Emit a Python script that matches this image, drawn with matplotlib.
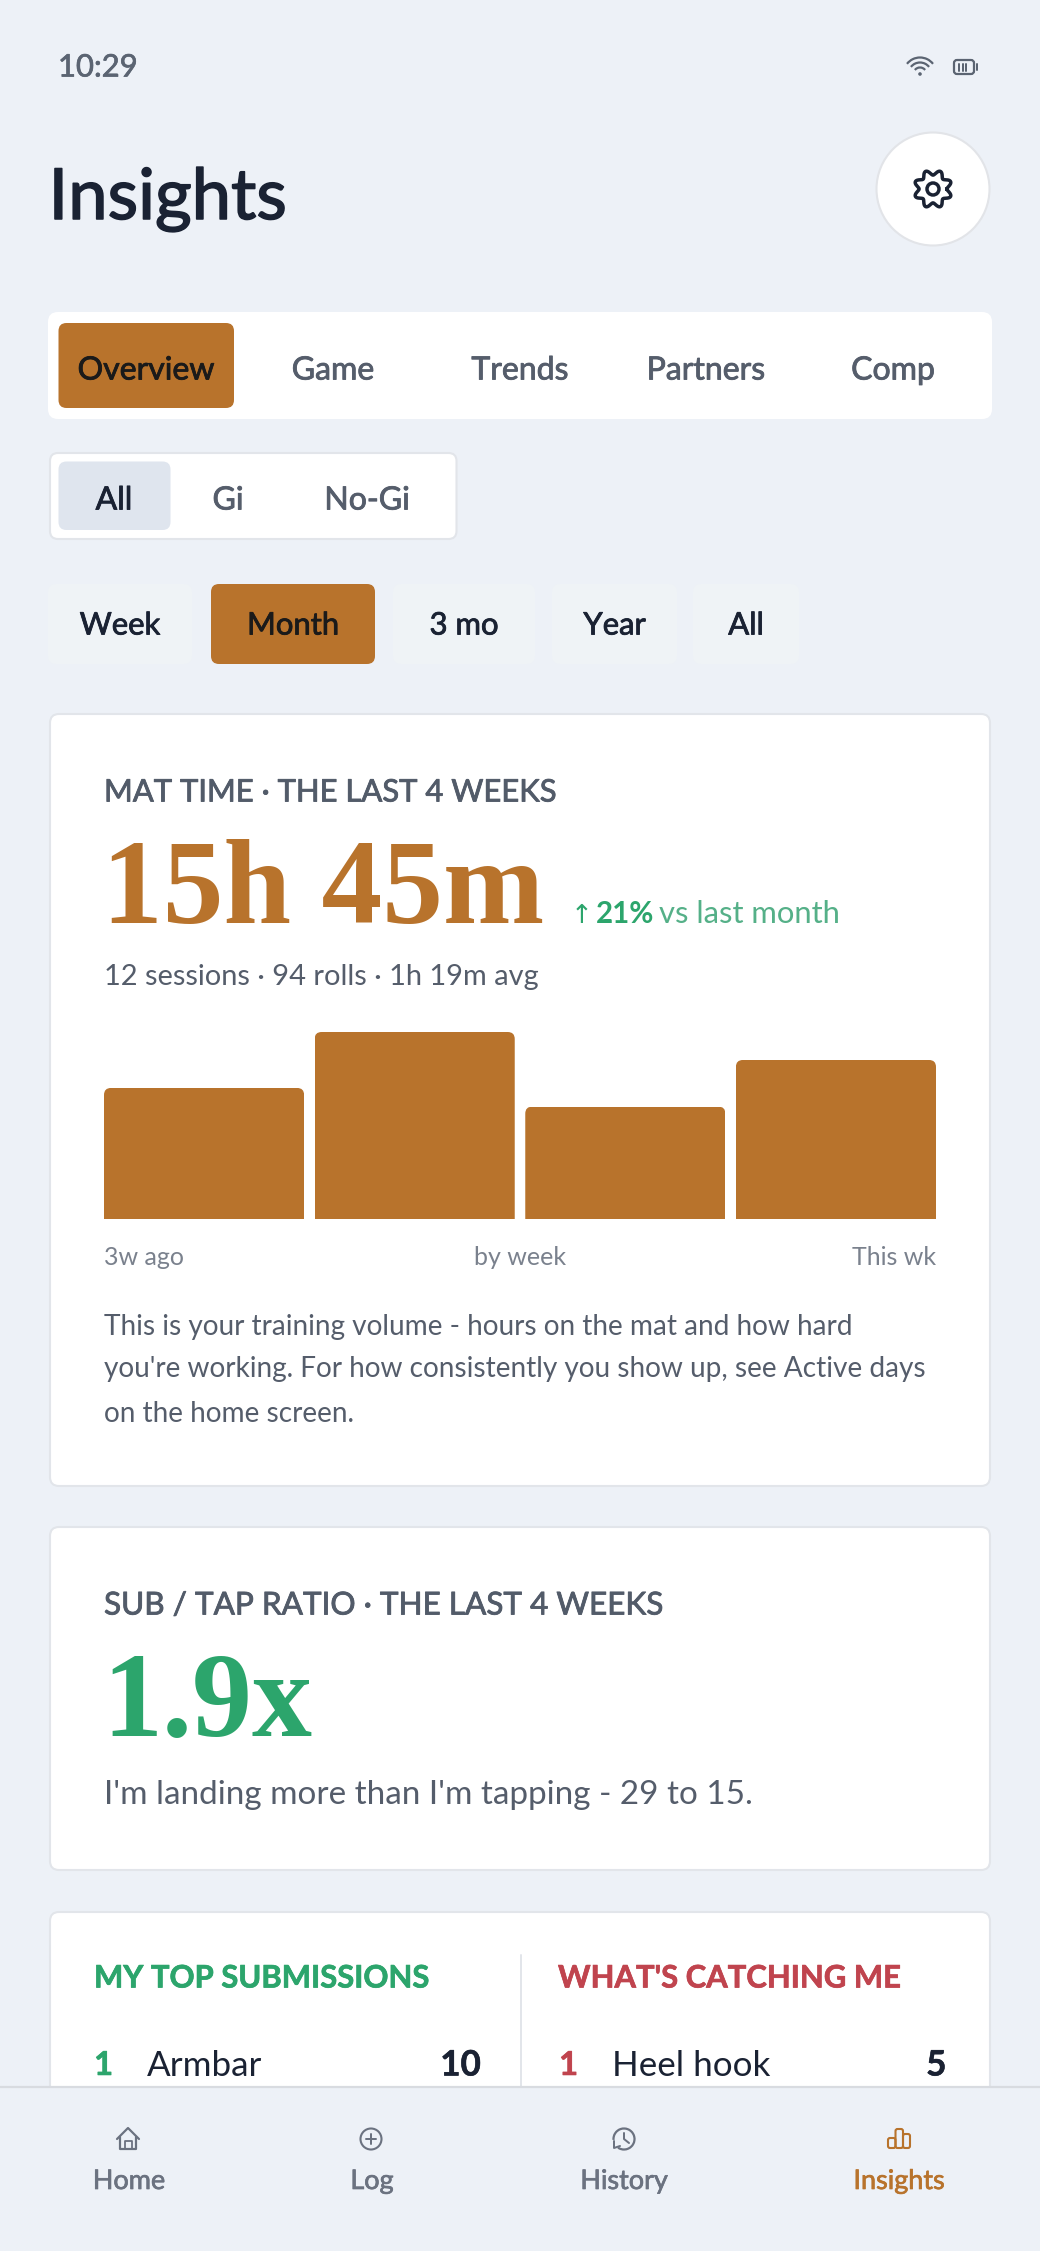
#!/usr/bin/env python3
import numpy as np
import matplotlib
matplotlib.use("Agg")
import matplotlib.pyplot as plt
import matplotlib.patheffects as pe
from matplotlib.patches import FancyBboxPatch, Circle, Arc

W, H = 1040, 2251

BG = "#edf1f7"
INK = "#1a2233"
GREY = "#555d6b"
SOFT = "#7a818d"
ORANGE = "#b8732c"
GREEN = "#2ca56c"
RED = "#c0444e"
BORDER = "#e2e5ea"

plt.rcParams["font.family"] = ["Lato", "DejaVu Sans"]

# chart values
weeks = ["3w ago", "2w ago", "1w ago", "This wk"]
hours = [3.5, 5.0, 3.0, 4.25]

main_tabs = ["Overview", "Game", "Trends", "Partners", "Comp"]
main_tab_x = [146, 333, 520, 706, 893]
gi_tabs = ["All", "Gi", "No-Gi"]
gi_tab_x = [114, 228, 367]
period_tabs = ["Week", "Month", "3 mo", "Year", "All"]
period_spans = [(48, 192), (211, 375), (393, 535), (552, 677), (693, 799)]

note_lines = [
    "This is your training volume - hours on the mat and how hard",
    "you're working. For how consistently you show up, see Active days",
    "on the home screen.",
]
note_y = [1324, 1367, 1412]

nav_items = ["Home", "Log", "History", "Insights"]
nav_x = [129, 372, 624, 899]

fig = plt.figure(figsize=(W / 100, H / 100), dpi=100, facecolor=BG)
ax = fig.add_axes([0, 0, 1, 1])
ax.set_xlim(0, W)
ax.set_ylim(H, 0)
ax.axis("off")


def box(x0, y0, x1, y1, r=10, fc="white", ec="none", lw=0, z=1):
    p = FancyBboxPatch((x0 + r, y0 + r), x1 - x0 - 2 * r, y1 - y0 - 2 * r,
                       boxstyle=f"round,pad={r},rounding_size={r}",
                       fc=fc, ec=ec, lw=lw, zorder=z)
    ax.add_patch(p)
    return p


def label(x, y, s, px, color=GREY, ha="left", va="center", weight="normal", z=5, thick=0, **kw):
    # px is the font size in image pixels, thick fakes the medium weights Lato lacks here
    if va == "center":
        y += 2.5
    t = ax.text(x, y, s, fontsize=px * 0.72, color=color, ha=ha, va=va,
                weight=weight, zorder=z, **kw)
    if thick:
        t.set_path_effects([pe.withStroke(linewidth=thick, foreground=color)])
    return t


def line(xs, ys, color, lw=2.0, z=6):
    ax.plot(xs, ys, color=color, lw=lw * 0.72, solid_capstyle="round",
            solid_joinstyle="round", zorder=z)


# status bar
label(58, 65, "10:29", 31, color="#5b6472", thick=0.5)
for r in (6.5, 11.5, 16.5):
    ax.add_patch(Arc((920, 74), 2 * r, 2 * r, theta1=218, theta2=322, color="#5b6472",
                     lw=1.6, zorder=6))
ax.add_patch(Circle((920, 74), 1.8, fc="#5b6472", ec="none", zorder=6))
box(954, 60, 974, 74, r=3, fc="none", ec="#5b6472", lw=1.6, z=6)
line([976.5, 976.5], [64, 70], "#5b6472", 2)
for bx in (959, 962.5, 966):
    line([bx, bx], [63.5, 70.5], "#5b6472", 2)

# header
label(48.5, 219, "Insights", 70.5, color=INK, va="baseline", thick=1.1)
ax.add_patch(Circle((933, 189), 56.5, fc="white", ec="#e2e4e8", lw=1.5, zorder=2))
t = np.linspace(0, 2 * np.pi, 361)
gear_r = 16.5 + 2.6 * np.cos(8 * (t + np.pi / 8 + np.pi / 2))
ax.plot(933 + gear_r * np.cos(t), 189 + gear_r * np.sin(t), color=INK, lw=2.5, zorder=6)
ax.add_patch(Circle((933, 189), 6, fc="none", ec=INK, lw=2.5, zorder=6))

# main tabs
box(48, 312, 992, 419, r=10)
box(58.5, 323, 234, 408, r=8, fc=ORANGE, z=2)
for i, (name, x) in enumerate(zip(main_tabs, main_tab_x)):
    label(x, 368, name, 32, color="#1a1a1a" if i == 0 else GREY, ha="center", thick=0.6)

# gi / no-gi
box(50, 453, 456.5, 539, r=8, ec=BORDER, lw=1.5)
box(58.5, 461.5, 170.5, 530, r=8, fc="#dfe5ee", z=2)
for i, (name, x) in enumerate(zip(gi_tabs, gi_tab_x)):
    label(x, 498, name, 32, color=INK if i == 0 else GREY, ha="center", thick=0.6)

# period chips
for i, (name, (x0, x1)) in enumerate(zip(period_tabs, period_spans)):
    box(x0, 584, x1, 664, r=8, fc=ORANGE if i == 1 else "#eff3f6", z=2)
    label((x0 + x1) / 2, 623, name, 31, color="#1a1a1a" if i == 1 else INK, ha="center", thick=0.6)

# mat time card
box(50, 714, 990, 1486, r=9, ec=BORDER, lw=1.5)
label(104, 790, "MAT TIME · THE LAST 4 WEEKS", 31, color="#525b69", thick=0.6)
label(102, 923, "15h 45m", 121.5, color=ORANGE, va="baseline", weight="bold",
      family="Liberation Serif")
label(571, 923, "↑", 26, color=GREEN, va="baseline", family="DejaVu Sans")
label(596, 923, "21%", 29.5, color=GREEN, va="baseline", weight="bold")
label(659, 923, "vs last month", 31, color="#55b088", va="baseline")
label(104, 974, "12 sessions · 94 rolls · 1h 19m avg", 29)

# weekly bars, one hour is 37.3 px tall
bar_ax = fig.add_axes([104 / W, 1 - 1218.5 / H, 832 / W, 186.5 / H])
bar_ax.set_xlim(-0.475, 3.475)
bar_ax.set_ylim(0, 5)
bar_ax.axis("off")
bar_ax.patch.set_alpha(0)
bars = bar_ax.bar(range(len(weeks)), hours, width=0.95, color=ORANGE, lw=0)
unit_x, unit_y = 832 / 3.95, 186.5 / 5
corner = 7 / unit_x
for b in bars:
    clip = FancyBboxPatch((b.get_x() + corner, -1), b.get_width() - 2 * corner,
                          b.get_height() + 1 - corner * unit_x / unit_y,
                          boxstyle=f"round,pad={corner},rounding_size={corner}",
                          mutation_aspect=unit_x / unit_y, transform=bar_ax.transData)
    b.set_clip_path(clip)

label(104, 1255, weeks[0], 25, color=SOFT)
label(520, 1255, "by week", 25, color=SOFT, ha="center")
label(936, 1255, weeks[-1], 25, color=SOFT, ha="right")
for s, y in zip(note_lines, note_y):
    label(104, y, s, 28)

# ratio card
box(50, 1527, 990, 1870, r=9, ec=BORDER, lw=1.5)
label(104, 1603, "SUB / TAP RATIO · THE LAST 4 WEEKS", 31.5, color="#525b69", thick=0.6)
label(102, 1735.5, "1.9x", 120, color=GREEN, va="baseline", weight="bold",
      family="Liberation Serif")
label(104, 1792, "I'm landing more than I'm tapping - 29 to 15.", 33.3)

# top lists card, runs under the nav
box(50, 1912, 990, 2200, r=9, ec=BORDER, lw=1.5)
line([521, 521], [1955, 2090], BORDER, 2, z=2)
label(94, 1976, "MY TOP SUBMISSIONS", 31, color=GREEN, weight="bold", thick=0.5)
label(558, 1976, "WHAT'S CATCHING ME", 31, color=RED, weight="bold", thick=0.5)
label(94, 2063, "1", 33, color=GREEN, weight="bold", thick=0.4)
label(147, 2063, "Armbar", 35, color=INK)
label(481, 2063, "10", 35, color=INK, ha="right", weight="bold", thick=0.4)
label(559, 2063, "1", 33, color=RED, weight="bold", thick=0.4)
label(612, 2063, "Heel hook", 35, color=INK)
label(946.5, 2063, "5", 35, color=INK, ha="right", weight="bold", thick=0.4)

# bottom nav
ax.fill_between([0, W], 2087, H, color=BG, lw=0, zorder=10)
ax.plot([0, W], [2087, 2087], color="#d8dbe0", lw=1.6, zorder=11)
NAV = "#6b7280"
for i, (name, x) in enumerate(zip(nav_items, nav_x)):
    label(x, 2179, name, 27, color=ORANGE if i == 3 else NAV, ha="center", z=12, thick=0.5)

# home icon
line([117, 128, 139], [2139, 2128, 2139], NAV, 2.2, z=12)
line([120, 120, 136, 136], [2137, 2149, 2149, 2137], NAV, 2.2, z=12)
line([124.5, 124.5, 131.5, 131.5], [2149, 2141, 2141, 2149], NAV, 1.8, z=12)
# log icon
ax.add_patch(Circle((371, 2139), 10.5, fc="none", ec=NAV, lw=1.5, zorder=12))
line([366, 376], [2139, 2139], NAV, 2, z=12)
line([371, 371], [2134, 2144], NAV, 2, z=12)
# history icon, the circle is open at the lower left for the arrow
ax.add_patch(Arc((624, 2139), 21, 21, theta1=175, theta2=125, color=NAV, lw=1.6, zorder=12))
line([614, 614, 620], [2141, 2148, 2146], NAV, 2, z=12)
line([624, 624, 629], [2133, 2139, 2143], NAV, 2, z=12)
# insights icon
for x0, x1, top in ((888, 895.5, 2138), (895.5, 903, 2129), (903, 910, 2134)):
    box(x0, top, x1, 2148, r=2, fc="none", ec=ORANGE, lw=1.5, z=12)

fig.savefig("out.png", dpi=100, facecolor=BG)
